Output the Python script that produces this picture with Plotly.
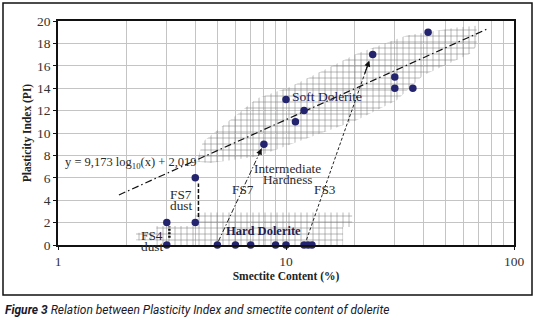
import math
import plotly.graph_objects as go

# ---- data ----
smectite = [3, 3, 4, 4, 5, 6, 7, 9, 10, 12, 12.5, 13, 8, 11, 12, 10, 24, 42, 30, 30, 36]
plasticity = [0, 2, 2, 6, 0, 0, 0, 0, 0, 0, 0, 0, 9, 11, 12, 13, 17, 19, 15, 14, 14]

fit_slope = 9.173
fit_intercept = 2.019
fit_x_range = [1.85, 77]

soft_zone_x = [4.06, 4.32, 7.44, 10.4, 20.4, 33.8, 56.1, 68.6, 68.6, 64.1, 39.9, 30.6, 20.4, 12.3, 7.44, 4.64]
soft_zone_y = [7.43, 9.21, 13.07, 14.1, 17.07, 18.7, 19.43, 19.58, 17.8, 17.07, 15.14, 12.92, 11.14, 9.54, 7.88, 7.32]

hard_zone_x = [2.2, 2.2, 2.7, 2.7, 4.0, 4.0, 19.5, 19.5, 17.8, 17.8, 2.7, 2.7]
hard_zone_y = [0.4, 1.1, 1.1, 1.7, 1.7, 2.9, 2.9, 1.6, 1.6, -0.5, -0.5, 0.4]

# arrows: (x0, y0, x1, y1)
arrow_fs7 = [5.05, 0.32, 7.82, 8.62]
arrow_fs3 = [12.3, 0.47, 23.2, 16.47]
arrow_fs7_dust = [4.13, 2.49, 4.13, 5.5]
arrow_fs4_dust = [3.08, 0.65, 3.08, 1.65]

x_tick_vals = [1, 10, 100]
x_minor_vals = [2, 3, 4, 5, 6, 7, 8, 9, 20, 30, 40, 50, 60, 70, 80, 90]
y_tick_vals = [0, 2, 4, 6, 8, 10, 12, 14, 16, 18, 20]

SERIF = "Liberation Serif, DejaVu Serif, serif"
TXT = "#2a2a2a"
NAVY = "#23236e"

fig = go.Figure()

hatch = dict(shape="+", size=6, solidity=0.17, fgcolor="#777777",
             bgcolor="rgba(0,0,0,0)", fillmode="replace")
for zx, zy in [(soft_zone_x, soft_zone_y), (hard_zone_x, hard_zone_y)]:
    fig.add_trace(go.Scatter(x=zx + [zx[0]], y=zy + [zy[0]], mode="lines", fill="toself",
                             fillcolor="rgba(0,0,0,0)", fillpattern=hatch,
                             line=dict(width=0, color="rgba(0,0,0,0)"),
                             hoverinfo="skip", showlegend=False))

# regression line
fx = [fit_x_range[0] * (fit_x_range[1] / fit_x_range[0]) ** (i / 60) for i in range(61)]
fy = [fit_slope * math.log10(v) + fit_intercept for v in fx]
fig.add_trace(go.Scatter(x=fx, y=fy, mode="lines",
                         line=dict(color="#111", width=1.2, dash="7px,3px,1.5px,3px"),
                         showlegend=False, hoverinfo="skip"))

arrow_styles = [
    (arrow_fs7, dict(color="#222", width=1, dash="5px,2px,1.5px,2px")),
    (arrow_fs3, dict(color="#222", width=1, dash="3px,2px")),
    (arrow_fs7_dust, dict(color="#111", width=1.5, dash="4px,2px")),
    (arrow_fs4_dust, dict(color="#111", width=2.5, dash="2px,1.5px")),
]
for a, style in arrow_styles:
    fig.add_trace(go.Scatter(x=[a[0], a[2]], y=[a[1], a[3]], mode="lines", line=style,
                             showlegend=False, hoverinfo="skip"))
    lx0, lx1 = math.log10(a[0]), math.log10(a[2])
    fig.add_annotation(x=lx1, y=a[3], ax=lx1 - 0.08 * (lx1 - lx0), ay=a[3] - 0.08 * (a[3] - a[1]),
                       xref="x", yref="y", axref="x", ayref="y", text="", showarrow=True,
                       arrowhead=2, arrowsize=1.0, arrowwidth=1.2, arrowcolor="#111", standoff=0)

fig.add_trace(go.Scatter(x=smectite, y=plasticity, mode="markers",
                         marker=dict(color=NAVY, size=7.5, line=dict(width=0)),
                         cliponaxis=False, showlegend=False))

def note(x, y, text, size=12, color=TXT, xanchor="center", bold=False, yshift=0):
    fig.add_annotation(x=math.log10(x), y=y, text=("<b>%s</b>" % text) if bold else text,
                       showarrow=False, xanchor=xanchor, yanchor="middle", yshift=yshift,
                       font=dict(family=SERIF, size=size, color=color))

note(15.1, 13.3, "Soft Dolerite", size=13.5, color="#1d2150")
note(7.93, 1.27, "Hard Dolerite", size=12.5, color="#1d2150", bold=True)
note(10.2, 6.87, "Intermediate", size=13.3)
note(10.2, 5.89, "Hardness", size=13.3)
note(6.48, 4.92, "FS7", size=13.3)
note(14.8, 5.0, "FS3", size=13.3)
note(3.48, 4.47, "FS7", size=13.3)
note(3.48, 3.49, "dust", size=13.3)
note(2.58, 0.85, "FS4", size=13.3)
note(2.58, 0, "dust", size=13.3, yshift=-1.8)
note(1.05, 7.32, "y = 9,173 log<sub>10</sub>(x) + 2,019", size=12.5, xanchor="left")

W, H = 535, 323
ML, MR, MT, MB = 58, 21, 21, 78
pw, ph = W - ML - MR, H - MT - MB

def px(xp):
    return (xp - ML) / pw

def py(yp):
    return (H - MB - yp) / ph

fig.add_shape(type="rect", xref="paper", yref="paper", x0=px(3), x1=px(532), y0=py(295), y1=py(3),
              line=dict(color="#111", width=1.5), layer="below")

fig.add_annotation(xref="paper", yref="paper", x=px(3), y=py(310), xanchor="left", yanchor="middle",
                   showarrow=False,
                   text="<b><i>Figure 3</i></b><i> Relation between Plasticity Index and smectite content of dolerite</i>",
                   font=dict(family="Roboto, sans-serif", size=12, color="#1a1a2a"))

axis_common = dict(showline=True, linecolor="#111", linewidth=1.5, mirror=True,
                   gridcolor="#c4c4c4", gridwidth=1, ticks="outside", ticklen=3,
                   tickcolor="#111", tickfont=dict(family=SERIF, size=13.5, color="#333"),
                   zeroline=False, automargin=False)

fig.update_xaxes(type="log", range=[0, 2], tickvals=x_tick_vals, ticktext=["1", "10", "100"],
                 minor=dict(tickvals=x_minor_vals, showgrid=True, gridcolor="#c4c4c4", ticks=""),
                 title=dict(text="<b>Smectite Content (%)</b>", standoff=4,
                            font=dict(family=SERIF, size=11.5, color="#222")),
                 **axis_common)
fig.update_yaxes(range=[0, 20], tickvals=y_tick_vals,
                 title=dict(text="<b>Plasticity Index (PI)</b>", standoff=3,
                            font=dict(family=SERIF, size=11.5, color="#222")),
                 **axis_common)

fig.update_layout(width=W, height=H, margin=dict(l=ML, r=MR, t=MT, b=MB, autoexpand=False),
                  paper_bgcolor="white", plot_bgcolor="white", showlegend=False)

fig.write_html("out.html", config={"displayModeBar": False},
               post_script="document.body.style.margin='0px';document.body.style.overflow='hidden';")
